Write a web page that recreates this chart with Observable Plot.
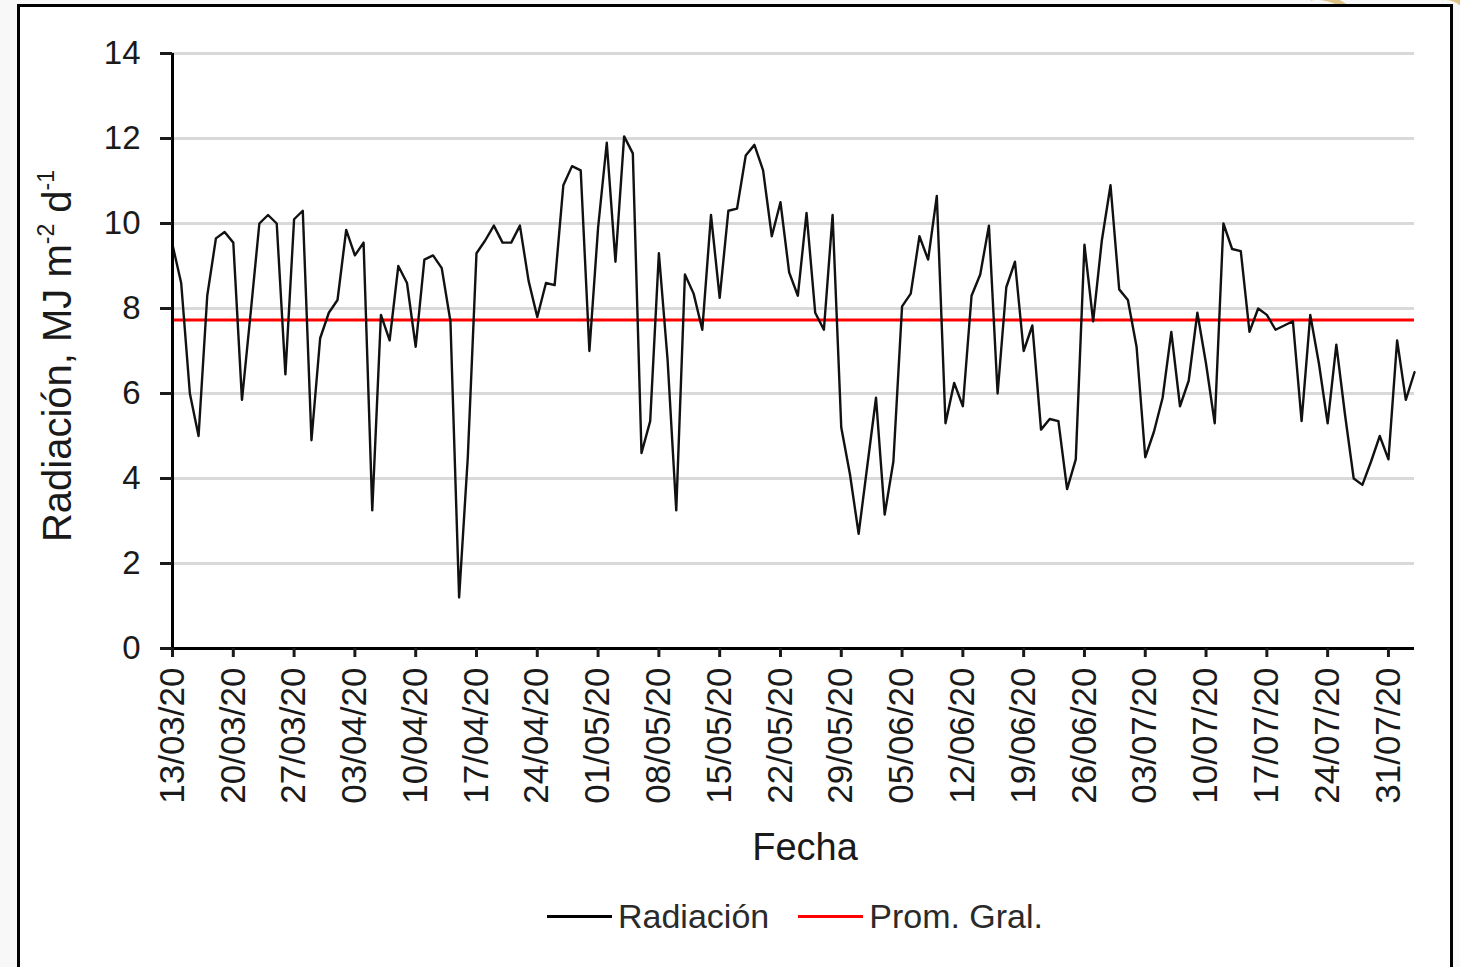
<!DOCTYPE html>
<html>
<head>
<meta charset="utf-8">
<script src="https://cdn.jsdelivr.net/npm/d3@7"></script>
<script src="https://cdn.jsdelivr.net/npm/@observablehq/plot@0.6"></script>
<style>
  html, body { margin: 0; padding: 0; background: #f8f8f8; }
  #wrap { position: relative; width: 1460px; height: 967px; overflow: hidden; font-family: "Liberation Sans", Arial, sans-serif; }
  #frame { position: absolute; left: 17px; top: 4px; width: 1436px; height: 1000px; border: 3px solid #000; box-sizing: border-box; background: #fff; }
  .deco { position: absolute; border-radius: 50%; border: 6px solid #d9b56a; border-color: #d9b56a transparent transparent transparent; opacity: 0.8; }
  #chart { position: absolute; left: 0; top: 0; }
  #ylab { position: absolute; left: 57px; top: 356px; transform: translate(-50%, -50%) rotate(-90deg); white-space: nowrap; font-size: 40px; color: #1a1a1a; }
  #ylab sup { font-size: 23px; vertical-align: 17px; line-height: 0; }
  #xlab { position: absolute; left: 805px; top: 826px; transform: translateX(-50%); font-size: 38px; color: #1a1a1a; white-space: nowrap; }
  #legend { position: absolute; left: 547px; top: 897px; display: flex; align-items: center; font-size: 34px; color: #2a2a2a; white-space: nowrap; }
  .sw { display: inline-block; width: 65px; height: 3px; margin-right: 6px; }
  .item { display: flex; align-items: center; }
</style>
</head>
<body>
<div id="wrap">
  <div class="deco" style="left:1290px; top:-4px; width:60px; height:40px; transform:rotate(25deg);"></div>
  <div class="deco" style="left:1420px; top:-6px; width:40px; height:40px; transform:rotate(35deg);"></div>
  <div class="deco" style="left:1448px; top:52px; width:30px; height:40px; transform:rotate(40deg);"></div>
  <div class="deco" style="left:1450px; top:145px; width:30px; height:40px; transform:rotate(40deg);"></div>
  <div id="frame"></div>
  <div id="chart"></div>
  <div id="ylab">Radiación, MJ m<sup>-2</sup> d<sup>-1</sup></div>
  <div id="xlab">Fecha</div>
  <div id="legend">
    <div class="item"><span class="sw" style="background:#000"></span><span>Radiación</span></div>
    <div class="item" style="margin-left:29px"><span class="sw" style="background:#ff0000"></span><span>Prom. Gral.</span></div>
  </div>
</div>
<script>
// Daily radiation (MJ m-2 d-1), one value per day starting 13/03/20
const fechaInicio = "13/03/20";
const radiacion = [
  9.5, 8.6, 6.0, 5.0, 8.3, 9.65, 9.8, 9.55, 5.85, 7.9,
  10.0, 10.2, 10.0, 6.45, 10.1, 10.3, 4.9, 7.3, 7.9, 8.2,
  9.85, 9.25, 9.55, 3.25, 7.85, 7.25, 9.0, 8.6, 7.1, 9.15,
  9.25, 8.95, 7.7, 1.2, 4.5, 9.3, 9.6, 9.95, 9.55, 9.55,
  9.95, 8.65, 7.8, 8.6, 8.55, 10.9, 11.35, 11.25, 7.0, 9.9,
  11.9, 9.1, 12.05, 11.65, 4.6, 5.35, 9.3, 6.8, 3.25, 8.8,
  8.35, 7.5, 10.2, 8.25, 10.3, 10.35, 11.6, 11.85, 11.25, 9.7,
  10.5, 8.85, 8.3, 10.25, 7.9, 7.5, 10.2, 5.2, 4.1, 2.7,
  4.3, 5.9, 3.15, 4.4, 8.05, 8.35, 9.7, 9.15, 10.65, 5.3,
  6.25, 5.7, 8.3, 8.8, 9.95, 6.0, 8.5, 9.1, 7.0, 7.6,
  5.15, 5.4, 5.35, 3.75, 4.45, 9.5, 7.7, 9.6, 10.9, 8.45,
  8.2, 7.1, 4.5, 5.1, 5.9, 7.45, 5.7, 6.3, 7.9, 6.7,
  5.3, 10.0, 9.4, 9.35, 7.45, 8.0, 7.85, 7.5, 7.6, 7.7,
  5.35, 7.85, 6.7, 5.3, 7.15, 5.5, 4.0, 3.85, 4.4, 5.0,
  4.45, 7.25, 5.85, 6.5
];
const promedioGeneral = 7.73;
const tickLabels = [
  "13/03/20", "20/03/20", "27/03/20", "03/04/20", "10/04/20", "17/04/20", "24/04/20",
  "01/05/20", "08/05/20", "15/05/20", "22/05/20", "29/05/20", "05/06/20", "12/06/20",
  "19/06/20", "26/06/20", "03/07/20", "10/07/20", "17/07/20", "24/07/20", "31/07/20"
];
const yTicks = [0, 2, 4, 6, 8, 10, 12, 14];

const parseDMY = s => { const [d, m, y] = s.split("/").map(Number); return new Date(Date.UTC(2000 + y, m - 1, d)); };
const start = parseDMY(fechaInicio);
const data = radiacion.map((v, i) => ({ fecha: d3.utcDay.offset(start, i), v }));
const end = data[data.length - 1].fecha;
const tickDates = tickLabels.map(parseDMY);

const plot = Plot.plot({
  width: 1460,
  height: 830,
  marginLeft: 172,
  marginRight: 46,
  marginTop: 53,
  marginBottom: 182,
  style: { fontFamily: "'Liberation Sans', Arial, sans-serif", color: "#1a1a1a", background: "transparent", overflow: "visible" },
  x: { type: "utc", domain: [start, end] },
  y: { domain: [0, 14] },
  marks: [
    Plot.ruleY(yTicks.filter(d => d > 0), { stroke: "#d9d9d9", strokeWidth: 3 }),
    Plot.ruleY([promedioGeneral], { x1: start, x2: end, stroke: "#ff0000", strokeWidth: 3 }),
    Plot.lineY(data, { x: "fecha", y: "v", stroke: "#111", strokeWidth: 2.4 }),
    Plot.ruleX([start], { stroke: "#000", strokeWidth: 3 }),
    Plot.ruleY([0], { stroke: "#000", strokeWidth: 3 }),
    Plot.axisY({ ticks: yTicks, tickSize: 12, tickPadding: 20, fontSize: 33, strokeWidth: 3, label: null }),
    Plot.axisX({ ticks: tickDates, tickFormat: d => tickLabels[tickDates.findIndex(t => +t === +d)], tickRotate: -90, tickSize: 9, tickPadding: 10, fontSize: 35, strokeWidth: 3, label: null })
  ]
});
document.getElementById("chart").appendChild(plot);
</script>
</body>
</html>
